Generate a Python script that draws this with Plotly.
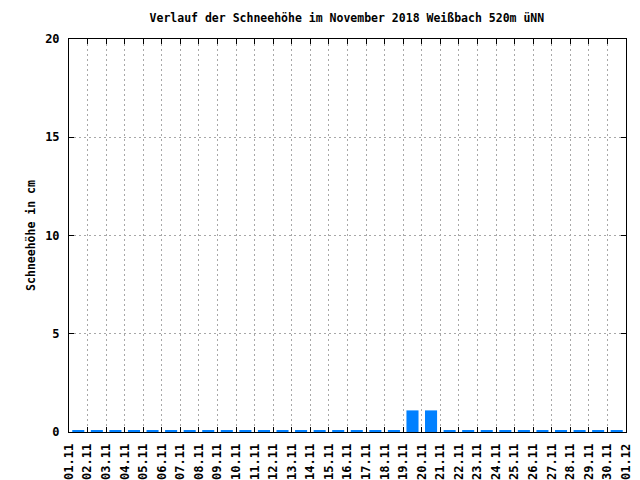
import plotly.graph_objects as go

tick_labels = ["01.11", "02.11", "03.11", "04.11", "05.11", "06.11", "07.11", "08.11",
               "09.11", "10.11", "11.11", "12.11", "13.11", "14.11", "15.11", "16.11",
               "17.11", "18.11", "19.11", "20.11", "21.11", "22.11", "23.11", "24.11",
               "25.11", "26.11", "27.11", "28.11", "29.11", "30.11", "01.12"]
bar_pos = [i + 0.5 for i in range(30)]
snow_cm = [0.1] * 18 + [1.1, 1.1] + [0.1] * 10
y_ticks = [0, 5, 10, 15, 20]

font_family = "DejaVu Sans Mono"
grid_col = "#a8a8a8"

fig = go.Figure()
fig.add_trace(go.Bar(x=bar_pos, y=snow_cm, width=0.65,
                     marker=dict(color="#0080ff", line=dict(width=0))))

fig.update_layout(
    width=640, height=480,
    margin=dict(l=69, r=14, t=39, b=48),
    paper_bgcolor="white", plot_bgcolor="white",
    showlegend=False,
    font=dict(family=font_family, size=12, color="black"),
    title=dict(text="<b>Verlauf der Schneehöhe im November 2018 Weißbach 520m üNN</b>",
               x=0.542, xanchor="center", y=0.962, yanchor="middle",
               font=dict(family=font_family, size=11.5, color="black")),
    xaxis=dict(range=[0, 30], tickmode="array", tickvals=list(range(31)),
               ticktext=["<b>%s</b>" % t for t in tick_labels], tickangle=-90,
               tickfont=dict(size=12), ticklabelstandoff=6,
               ticks="inside", ticklen=5, tickcolor="black",
               showline=True, linecolor="black", linewidth=1, mirror="ticks",
               showgrid=True, gridcolor=grid_col, griddash="2px,3px", gridwidth=1,
               zeroline=False, fixedrange=True, automargin=False),
    yaxis=dict(range=[0, 20], tickmode="array", tickvals=y_ticks,
               ticktext=["<b>%d</b>" % v for v in y_ticks],
               tickfont=dict(size=12), ticklabelstandoff=6,
               ticks="inside", ticklen=5, tickcolor="black",
               showline=True, linecolor="black", linewidth=1, mirror="ticks",
               showgrid=True, gridcolor=grid_col, griddash="2px,3px", gridwidth=1,
               zeroline=False, fixedrange=True, automargin=False,
               title=dict(text="<b>Schneehöhe in cm</b>", standoff=7,
                          font=dict(family=font_family, size=11.5))),
)

fig.write_html("out.html", config={"displayModeBar": False},
               post_script="document.body.style.margin='0';")
